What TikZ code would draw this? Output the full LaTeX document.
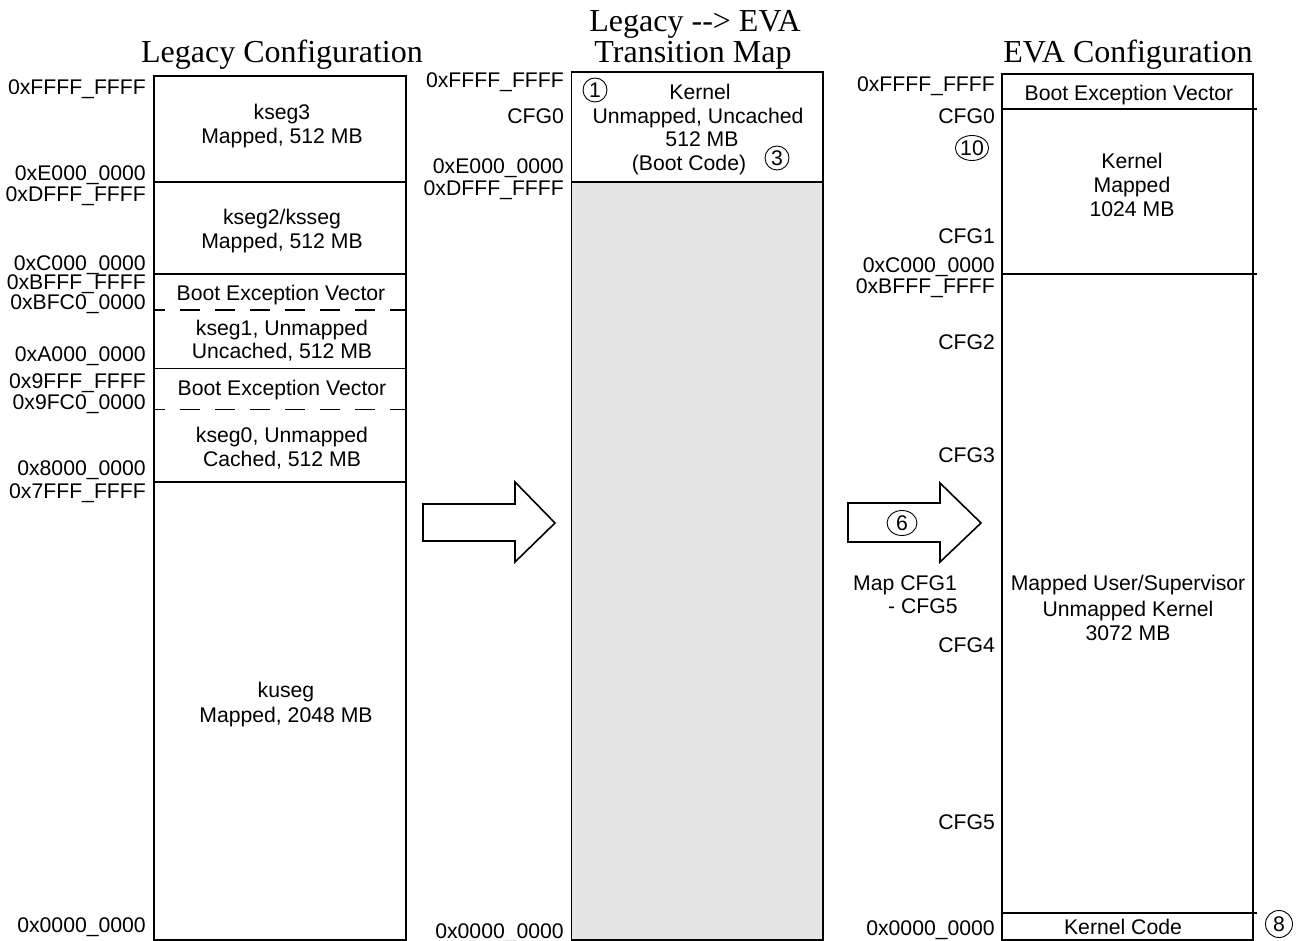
\documentclass[tikz,border=0pt]{standalone}
\usepackage{fontspec}
\setmainfont{Liberation Serif}
\newfontfamily\arialf{Liberation Sans}
\usetikzlibrary{shapes.geometric}
\definecolor{boxgray}{HTML}{E5E5E5}
\begin{document}
\begin{tikzpicture}[x=1pt,y=-1pt,
  lbl/.style={font=\arialf\fontsize{21.2}{24}\selectfont, inner sep=0pt},
  addr/.style={lbl, anchor=base east},
  txt/.style={lbl, anchor=base},
  ttl/.style={font=\fontsize{32}{36}\selectfont, inner sep=0pt, anchor=base},
  frame/.style={draw, line width=1.6pt},
  sep/.style={line width=1.6pt},
  dsep/.style={line width=1.6pt, dash pattern=on 20pt off 15pt, dash phase=9pt},
  num/.style={lbl, draw, line width=0.9pt, ellipse, inner sep=0pt, minimum width=24pt, minimum height=24pt},
  wnum/.style={num, minimum width=30pt, minimum height=25pt},
  blk/.style={draw, line width=1.6pt, fill=white, line join=miter}
]
\useasboundingbox (0,0) rectangle (1304,941);

% ---------- titles
\node[ttl] (tL) at (282,63) {Legacy Configuration};
\node[ttl] (tM1) at (695,32) {Legacy {-}{-}> EVA};
\node[ttl] (tM2) at (693,63) {Transition Map};
\node[ttl] (tR) at (1128,63) {EVA Configuration};

% ---------- legacy column
\draw[frame] (154,76) rectangle (406,940);
\draw[sep] (154,182) -- (406,182);
\draw[sep] (154,274) -- (406,274);
\draw[dsep] (154,310) -- (406,310);
\draw[sep] (154,368.5) -- (406,368.5);
\draw[dsep] (154,409.5) -- (406,409.5);
\draw[sep] (154,482) -- (406,482);

\node[addr] (l1) at (146,95) {0xFFFF\_FFFF};
\node[addr] (l2) at (146,181) {0xE000\_0000};
\node[addr] (l3) at (146,202) {0xDFFF\_FFFF};
\node[addr] (l4) at (146,270.5) {0xC000\_0000};
\node[addr] (l5) at (146,290) {0xBFFF\_FFFF};
\node[addr] (l6) at (146,309.5) {0xBFC0\_0000};
\node[addr] (l7) at (146,361) {0xA000\_0000};
\node[addr] (l8) at (146,388) {0x9FFF\_FFFF};
\node[addr] (l9) at (146,409) {0x9FC0\_0000};
\node[addr] (l10) at (146,475) {0x8000\_0000};
\node[addr] (l11) at (146,498) {0x7FFF\_FFFF};
\node[addr] (l12) at (146,932) {0x0000\_0000};

\node[txt] (k3a) at (282,120) {kseg3};
\node[txt] (k3b) at (282,144) {Mapped, 512 MB};
\node[txt] (k2a) at (282,225) {kseg2/ksseg};
\node[txt] (k2b) at (282,249) {Mapped, 512 MB};
\node[txt] (bev1) at (281,301) {Boot Exception Vector};
\node[txt] (k1a) at (282,336) {kseg1, Unmapped};
\node[txt] (k1b) at (282,359) {Uncached, 512 MB};
\node[txt] (bev2) at (282,395) {Boot Exception Vector};
\node[txt] (k0a) at (282,442) {kseg0, Unmapped};
\node[txt] (k0b) at (282,466) {Cached, 512 MB};
\node[txt] (kua) at (286,697) {kuseg};
\node[txt] (kub) at (286,722) {Mapped, 2048 MB};

% ---------- transition column
\fill[boxgray] (571.5,182) rectangle (823,940);
\draw[frame] (571.5,72) rectangle (823,940);
\draw[sep] (571.5,182) -- (823,182);

\node[addr] (m1) at (564,88) {0xFFFF\_FFFF};
\node[addr] (m2) at (564,124) {CFG0};
\node[addr] (m3) at (564,174) {0xE000\_0000};
\node[addr] (m4) at (564,196) {0xDFFF\_FFFF};
\node[addr] (m5) at (564,938) {0x0000\_0000};

\node[txt] (ka) at (700,100) {Kernel};
\node[txt] (kb) at (698,124) {Unmapped, Uncached};
\node[txt] (kc) at (702,147) {512 MB};
\node[txt] (kd) at (689,171) {(Boot Code)};
\node[num] (c1) at (595,90) {1};
\node[num] (c3) at (777,158) {3};

% ---------- EVA column
\draw[frame] (1002,74) rectangle (1253,940);
\draw[sep] (1002,109) -- (1257,109);
\draw[sep] (1002,274) -- (1257,274);
\draw[sep] (1002,913) -- (1257,913);

\node[addr] (r1) at (995,92) {0xFFFF\_FFFF};
\node[addr] (r2) at (995,124) {CFG0};
\node[addr] (r3) at (995,244) {CFG1};
\node[addr] (r4) at (995,272.5) {0xC000\_0000};
\node[addr] (r5) at (995,294) {0xBFFF\_FFFF};
\node[addr] (r6) at (995,349) {CFG2};
\node[addr] (r7) at (995,462) {CFG3};
\node[addr] (r8) at (995,652) {CFG4};
\node[addr] (r9) at (995,829) {CFG5};
\node[addr] (r10) at (995,935) {0x0000\_0000};
\node[lbl, anchor=base west] (map1) at (853,590) {Map CFG1};
\node[lbl, anchor=base west] (map2) at (888,613) {- CFG5};

\node[txt] (ebev) at (1129,101) {Boot Exception Vector};
\node[txt] (eka) at (1132,169) {Kernel};
\node[txt] (ekb) at (1132,193) {Mapped};
\node[txt] (ekc) at (1132,217) {1024 MB};
\node[txt] (eua) at (1128,590) {Mapped User/Supervisor};
\node[txt] (eub) at (1128,616) {Unmapped Kernel};
\node[txt] (euc) at (1128,640) {3072 MB};
\node[txt] (ekcode) at (1123,934) {Kernel Code};
\node[wnum] (c10) at (972,148) {10};
\node[num, minimum width=27pt, minimum height=27pt] (c8) at (1279,924) {8};

% ---------- block arrows
\draw[blk] (423,504) -- (515,504) -- (515,482) -- (555,523) -- (515,562) -- (515,541) -- (423,541) -- cycle;
\draw[blk] (848,503) -- (940,503) -- (940,483) -- (981,523) -- (940,562) -- (940,542) -- (848,542) -- cycle;
\node[wnum] (c6) at (902,523) {6};
\end{tikzpicture}
\end{document}
